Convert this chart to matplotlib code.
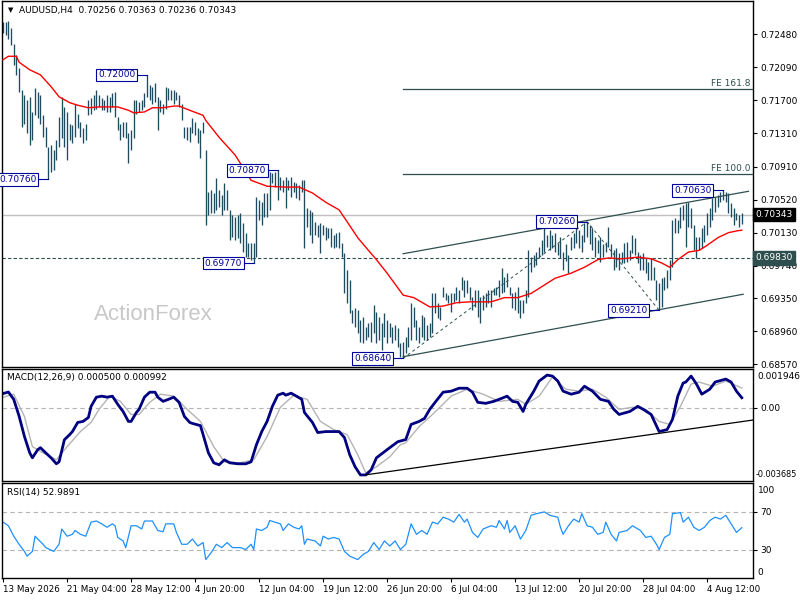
import matplotlib
matplotlib.use("Agg")
import matplotlib.pyplot as plt
import matplotlib.transforms as mtransforms
import numpy as np

plt.rcParams['font.family'] = ['DejaVu Sans']

# ---------------- data ----------------
highs = [0.7263, 0.7263, 0.7264, 0.7255, 0.7237, 0.7223, 0.7208, 0.7182, 0.7176, 0.7170,
         0.7174, 0.7156, 0.7184, 0.7180, 0.7176, 0.7152, 0.7138, 0.7115, 0.7117, 0.7111,
         0.7123, 0.7150, 0.7174, 0.7162, 0.7156, 0.7142, 0.7140, 0.7166, 0.7154, 0.7144,
         0.7137, 0.7142, 0.7170, 0.7172, 0.7176, 0.7182, 0.7176, 0.7172, 0.7170, 0.7176,
         0.7174, 0.7178, 0.7180, 0.7150, 0.7142, 0.7144, 0.7144, 0.7131, 0.7135, 0.7170,
         0.7170, 0.7168, 0.7170, 0.7178, 0.7200, 0.7188, 0.7186, 0.7190, 0.7174, 0.7170,
         0.7166, 0.7186, 0.7184, 0.7182, 0.7182, 0.7180, 0.7176, 0.7166, 0.7138, 0.7138,
         0.7138, 0.7149, 0.7144, 0.7137, 0.7135, 0.7144, 0.7111, 0.7061, 0.7064, 0.7060,
         0.7078, 0.7064, 0.7058, 0.7072, 0.7064, 0.7040, 0.7034, 0.7032, 0.7034, 0.7036,
         0.7024, 0.7013, 0.7001, 0.7001, 0.7001, 0.7055, 0.7052, 0.7049, 0.7060, 0.7060,
         0.7085, 0.7084, 0.7085, 0.7087, 0.7079, 0.7075, 0.7079, 0.7075, 0.7079, 0.7073,
         0.7072, 0.7070, 0.7075, 0.7075, 0.7042, 0.7040, 0.7038, 0.7026, 0.7022, 0.7024,
         0.7022, 0.7020, 0.7019, 0.7019, 0.7010, 0.7013, 0.7014, 0.7001, 0.6989, 0.6969,
         0.6957, 0.6921, 0.6924, 0.6921, 0.6909, 0.6913, 0.6901, 0.6906, 0.6907, 0.6927,
         0.6919, 0.6913, 0.6906, 0.6918, 0.6909, 0.6906, 0.6901, 0.6904, 0.6900, 0.6882,
         0.6883, 0.6889, 0.6901, 0.6930, 0.6925, 0.6909, 0.6901, 0.6916, 0.6913, 0.6904,
         0.6906, 0.6941, 0.6941, 0.6930, 0.6925, 0.6949, 0.6941, 0.6939, 0.6941, 0.6941,
         0.6949, 0.6945, 0.6960, 0.6957, 0.6957, 0.6949, 0.6937, 0.6945, 0.6945, 0.6937,
         0.6939, 0.6941, 0.6945, 0.6945, 0.6948, 0.6949, 0.6957, 0.6971, 0.6960, 0.6965,
         0.6949, 0.6941, 0.6943, 0.6949, 0.6933, 0.6933, 0.6945, 0.6992, 0.6984, 0.6986,
         0.6990, 0.6996, 0.7004, 0.7020, 0.7010, 0.7016, 0.7010, 0.7013, 0.7001, 0.7008,
         0.6990, 0.6999, 0.6987, 0.7008, 0.7013, 0.7020, 0.7016, 0.7010, 0.7024, 0.7026,
         0.7022, 0.7019, 0.7008, 0.7004, 0.7008, 0.6999, 0.7002, 0.7020, 0.6999, 0.6992,
         0.6995, 0.6989, 0.6990, 0.7001, 0.7002, 0.6992, 0.7010, 0.7007, 0.6990, 0.6987,
         0.6989, 0.6983, 0.6978, 0.6983, 0.6972, 0.6957, 0.6953, 0.6959, 0.6960, 0.6969,
         0.6981, 0.7028, 0.7030, 0.7028, 0.7043, 0.7046, 0.7048, 0.7049, 0.7042, 0.7022,
         0.7008, 0.7008, 0.7019, 0.7022, 0.7036, 0.7042, 0.7054, 0.7055, 0.7058, 0.7061,
         0.7063, 0.7061, 0.7060, 0.7048, 0.7042, 0.7036, 0.7034, 0.70363]

lows = [0.7249, 0.7247, 0.7242, 0.7235, 0.7212, 0.7200, 0.7180, 0.7138, 0.7142, 0.7131,
        0.7117, 0.7123, 0.7152, 0.7149, 0.7142, 0.7126, 0.7115, 0.7076, 0.7085, 0.7087,
        0.7099, 0.7115, 0.7125, 0.7115, 0.7099, 0.7123, 0.7119, 0.7126, 0.7137, 0.7126,
        0.7119, 0.7123, 0.7152, 0.7154, 0.7158, 0.7160, 0.7162, 0.7158, 0.7158, 0.7156,
        0.7156, 0.7162, 0.7150, 0.7135, 0.7123, 0.7126, 0.7125, 0.7095, 0.7111, 0.7125,
        0.7154, 0.7156, 0.7158, 0.7162, 0.7174, 0.7170, 0.7166, 0.7168, 0.7135, 0.7156,
        0.7154, 0.7160, 0.7170, 0.7170, 0.7166, 0.7170, 0.7162, 0.7146, 0.7125, 0.7123,
        0.7121, 0.7131, 0.7129, 0.7119, 0.7101, 0.7131, 0.7022, 0.7034, 0.7036, 0.7036,
        0.7040, 0.7043, 0.7034, 0.7040, 0.7040, 0.7004, 0.7008, 0.7004, 0.7007, 0.7001,
        0.6990, 0.6984, 0.6984, 0.6981, 0.6977, 0.6984, 0.7028, 0.7022, 0.7032, 0.7032,
        0.7040, 0.7072, 0.7067, 0.7052, 0.7064, 0.7061, 0.7042, 0.7064, 0.7055, 0.7061,
        0.7054, 0.7052, 0.7061, 0.6995, 0.7020, 0.7010, 0.7001, 0.7010, 0.7008, 0.6989,
        0.7010, 0.7004, 0.7007, 0.6996, 0.6995, 0.6996, 0.6995, 0.6984, 0.6941, 0.6930,
        0.6918, 0.6906, 0.6901, 0.6894, 0.6884, 0.6882, 0.6886, 0.6889, 0.6884, 0.6894,
        0.6882, 0.6886, 0.6874, 0.6889, 0.6882, 0.6889, 0.6882, 0.6886, 0.6878, 0.6866,
        0.6864, 0.6870, 0.6878, 0.6886, 0.6901, 0.6886, 0.6882, 0.6889, 0.6886, 0.6886,
        0.6889, 0.6894, 0.6918, 0.6912, 0.6909, 0.6937, 0.6933, 0.6930, 0.6919, 0.6931,
        0.6933, 0.6930, 0.6945, 0.6937, 0.6941, 0.6933, 0.6921, 0.6925, 0.6913, 0.6906,
        0.6921, 0.6925, 0.6930, 0.6925, 0.6939, 0.6939, 0.6937, 0.6941, 0.6943, 0.6949,
        0.6939, 0.6924, 0.6921, 0.6918, 0.6912, 0.6918, 0.6930, 0.6937, 0.6966, 0.6972,
        0.6975, 0.6983, 0.6986, 0.6990, 0.6996, 0.6992, 0.6995, 0.6990, 0.6986, 0.6983,
        0.6969, 0.6979, 0.6965, 0.6992, 0.6995, 0.7001, 0.6995, 0.6990, 0.7002, 0.7008,
        0.6999, 0.6992, 0.6984, 0.6989, 0.6978, 0.6984, 0.6990, 0.6996, 0.6984, 0.6969,
        0.6972, 0.6969, 0.6977, 0.6977, 0.6978, 0.6981, 0.6989, 0.6986, 0.6977, 0.6969,
        0.6969, 0.6965, 0.6957, 0.6957, 0.6957, 0.6933, 0.6921, 0.6925, 0.6945, 0.6947,
        0.6957, 0.6972, 0.7013, 0.7013, 0.7019, 0.7028, 0.6996, 0.7020, 0.7019, 0.6992,
        0.6983, 0.6992, 0.6995, 0.7002, 0.7010, 0.7020, 0.7028, 0.7038, 0.7043, 0.7049,
        0.7052, 0.7049, 0.7036, 0.7032, 0.7022, 0.7028, 0.7020, 0.70236]

last_ohlc = [0.70256, 0.70363, 0.70236, 0.70343]
support_level = 0.69830

ma_idx = [0, 2, 5, 6, 10, 14, 18, 21, 25, 28, 32, 36, 43, 47, 49, 53, 56, 60, 64, 66,
          70, 75, 76, 81, 87, 93, 99, 106, 111, 116, 121, 126, 129, 133, 137, 140, 144, 150, 154, 160,
          165, 170, 175, 183, 188, 193, 198, 203, 207, 213, 218, 223, 227, 232, 238, 243, 247, 250, 253, 257,
          261, 264, 268, 272, 275, 277]
ma_val = [0.7218, 0.7222, 0.7222, 0.7215, 0.7206, 0.7200, 0.7186, 0.7174, 0.7167, 0.7164,
          0.7161, 0.7162, 0.7162, 0.7158, 0.7155, 0.7156, 0.7161, 0.7161, 0.7163, 0.7163,
          0.7158, 0.7152, 0.7146, 0.7126, 0.7105, 0.7075, 0.7068, 0.7067, 0.7067, 0.7060,
          0.7049, 0.7040, 0.7026, 0.7007, 0.6992, 0.6981, 0.6965, 0.6939, 0.6936, 0.6925,
          0.6926, 0.6930, 0.6931, 0.6931, 0.6936, 0.6936, 0.6941, 0.6951, 0.6959, 0.6965,
          0.6972, 0.6981, 0.6983, 0.6982, 0.6984, 0.6982, 0.6977, 0.6972, 0.6981, 0.6990,
          0.6992, 0.6998, 0.7007, 0.7013, 0.7015, 0.7016]

macd_idx = [0, 2, 4, 6, 8, 10, 11, 13, 14, 16, 18, 20, 21, 23, 25, 26, 28, 30, 32, 33,
            35, 37, 39, 41, 43, 45, 47, 48, 50, 51, 53, 55, 57, 58, 60, 62, 64, 66, 68, 70,
            71, 74, 75, 77, 79, 81, 83, 85, 88, 91, 93, 95, 97, 99, 101, 103, 105, 106, 108, 110,
            112, 113, 116, 118, 121, 126, 128, 130, 132, 134, 136, 138, 140, 144, 148, 151, 153, 156, 158, 160,
            162, 165, 168, 171, 174, 176, 178, 181, 184, 186, 189, 191, 193, 195, 196, 199, 201, 204, 206, 208,
            210, 213, 216, 218, 221, 224, 227, 229, 231, 235, 238, 240, 243, 246, 249, 251, 253, 255, 256, 258,
            260, 262, 265, 267, 271, 273, 275, 277]
macd_val = [0.00071, 0.00079, 0.00042, -0.00042, -0.00144, -0.00227, -0.00252, -0.00211, -0.00201, -0.00227,
            -0.00252, -0.00282, -0.00272, -0.00161, -0.00135, -0.00120, -0.00074, -0.00069, -0.00049, 0.00007,
            0.00053, 0.00058, 0.00053, 0.00058, 0.00017, -0.00019, -0.00069, -0.00069, -0.00024, -0.00008,
            0.00053, 0.00078, 0.00078, 0.00053, 0.00032, 0.00042, 0.00053, 0.00027, -0.00044, -0.00074,
            -0.00079, -0.00090, -0.00135, -0.00227, -0.00277, -0.00287, -0.00262, -0.00277, -0.00282, -0.00282,
            -0.00272, -0.00186, -0.00120, -0.00069, 0.00007, 0.00063, 0.00073, 0.00063, 0.00073, 0.00058,
            0.00042, -0.00024, -0.00074, -0.00125, -0.00120, -0.00120, -0.00150, -0.00237, -0.00297, -0.00338,
            -0.00338, -0.00313, -0.00252, -0.00211, -0.00171, -0.00160, -0.00084, -0.00069, -0.00054, -0.00008,
            0.00027, 0.00078, 0.00083, 0.00098, 0.00098, 0.00078, 0.00027, 0.00022, 0.00032, 0.00042,
            0.00058, 0.00032, 0.00027, -0.00019, 0.00017, 0.00083, 0.00134, 0.00164, 0.00159, 0.00134,
            0.00083, 0.00068, 0.00078, 0.00108, 0.00083, 0.00042, 0.00032, -0.00008, -0.00034, -0.00019,
            0.00007, -0.00008, -0.00034, -0.00120, -0.00110, -0.00059, 0.00058, 0.00124, 0.00129, 0.00159,
            0.00119, 0.00068, 0.00093, 0.00129, 0.00144, 0.00129, 0.00083, 0.00050]

sig_idx = [0, 4, 8, 11, 15, 20, 24, 29, 33, 36, 40, 44, 48, 51, 55, 59, 64, 69, 74, 79,
           83, 89, 94, 99, 104, 109, 114, 119, 124, 129, 133, 136, 140, 145, 149, 151, 156, 161, 168, 174,
           180, 186, 193, 196, 201, 206, 211, 216, 221, 226, 231, 236, 241, 246, 250, 254, 258, 261, 266, 271, 277]
sig_val = [0.00053, 0.00068, -0.00044, -0.00196, -0.00227, -0.00262, -0.00196, -0.00120, -0.00074, -0.00008,
           0.00058, 0.00032, -0.00034, -0.00034, 0.00027, 0.00068, 0.00058, -0.00008, -0.00069, -0.00196,
           -0.00272, -0.00277, -0.00262, -0.00145, 0.00002, 0.00063, 0.00042, -0.00069, -0.00110, -0.00135,
           -0.00237, -0.00328, -0.00297, -0.00247, -0.00186, -0.00176, -0.00095, -0.00034, 0.00058, 0.00093,
           0.00068, 0.00032, 0.00042, 0.00017, 0.00058, 0.00154, 0.00093, 0.00083, 0.00093, 0.00053,
           -0.00008, 0.00002, -0.00008, -0.00069, -0.00084, 0.00007, 0.00119, 0.00129, 0.00108, 0.00134, 0.00099]

rsi_idx = [0, 2, 4, 6, 8, 9, 11, 12, 13, 15, 16, 19, 21, 22, 24, 26, 27, 29, 31, 33,
           35, 37, 39, 41, 42, 43, 45, 46, 48, 50, 52, 53, 56, 58, 60, 61, 64, 65, 67, 69,
           71, 73, 75, 76, 78, 80, 82, 84, 86, 89, 91, 93, 94, 95, 97, 99, 100, 102, 104, 105,
           107, 109, 111, 112, 113, 114, 117, 119, 120, 122, 124, 126, 128, 130, 133, 135, 137, 139, 141, 143,
           145, 147, 149, 151, 153, 155, 157, 159, 161, 163, 165, 167, 169, 171, 173, 174, 176, 178, 180, 183,
           185, 186, 188, 189, 190, 192, 194, 196, 198, 200, 203, 205, 208, 209, 210, 212, 214, 216, 217, 219,
           221, 223, 225, 226, 228, 230, 231, 234, 236, 239, 241, 243, 245, 246, 248, 250, 251, 254, 255, 257,
           259, 261, 263, 265, 267, 269, 271, 273, 275, 277]
rsi_val = [58.8, 55, 44, 35.5, 28, 23, 28, 44, 41, 35.5, 32, 28, 35.5, 51.6, 44, 46, 50, 46, 44, 58.8,
           60, 57, 53.4, 57, 55, 42.7, 39, 32, 55, 55, 51.6, 60, 60, 50, 48.7, 57, 57, 48, 35.5, 35.5,
           41, 33.7, 37.3, 19.4, 26.6, 35.5, 32, 37.3, 32, 32, 30, 35.5, 30, 51.6, 50, 53.4, 60.5, 58.8, 57, 50,
           57, 53.4, 51.6, 55, 35.5, 41, 39, 33.7, 44, 41, 42.7, 41, 28, 23, 19.4, 24.7, 28, 37.3, 30, 39,
           33.7, 39, 30, 35.5, 57, 46, 50, 46, 58.8, 57, 64, 62, 58.8, 67, 58.8, 62, 48, 42.7, 51.6, 55,
           53.4, 60.5, 51.6, 60.5, 48, 55, 41, 50, 66, 67.7, 69.6, 66, 64, 53.4, 46, 55, 62, 58.8, 67.7, 55,
           53.4, 46, 48, 58.8, 46, 39, 48, 50, 55, 50, 42.7, 44, 35.5, 30, 42.7, 46, 67.7, 68.8, 58.8, 64,
           53.4, 50, 53.4, 60.5, 64, 62, 66, 57, 48, 52.99]

price_ticks = [0.72480, 0.72090, 0.71700, 0.71310, 0.70910, 0.70520,
               0.70130, 0.69740, 0.69350, 0.68960, 0.68570]
date_idx = [0, 24, 48, 72, 96, 120, 144, 168, 192, 216, 240, 264]
date_labels = ['13 May 2026', '21 May 04:00', '28 May 12:00', '4 Jun 20:00', '12 Jun 04:00',
               '19 Jun 12:00', '26 Jun 20:00', '6 Jul 04:00', '13 Jul 12:00', '20 Jul 20:00',
               '28 Jul 04:00', '4 Aug 12:00']

# swing labels: (bar index, price)
swing_idx = [54, 17, 103, 94, 150, 219, 246, 270]
swing_val = [0.72000, 0.70760, 0.70870, 0.69770, 0.68640, 0.70260, 0.69210, 0.70630]

# channel / trend lines (bar index, value)
chan_up = [(150, 0.6988), (279.5, 0.7062)]
chan_lo = [(150, 0.6866), (277.5, 0.6940)]
macd_trend = [(135.75, -0.00338), (281.2, -0.00062)]

# ---------------- styling ----------------
BAR = '#1E4B5E'
SLATE = '#2F4F4F'
NAVY_TXT = '#00009A'
W, H = 800, 600
FS = 6.5

fig = plt.figure(figsize=(8, 6), dpi=100)
fig.patch.set_facecolor('white')


def px_rect(x0, y0, x1, y1):
    return [x0 / W, 1 - y1 / H, (x1 - x0) / W, (y1 - y0) / H]


ax = fig.add_axes(px_rect(2, 1, 753, 367))
ax2 = fig.add_axes(px_rect(2, 369, 753, 481))
ax3 = fig.add_axes(px_rect(2, 483, 753, 578))

XL = (-0.4, 281.2)
for a in (ax, ax2, ax3):
    a.set_xlim(*XL)
    a.set_facecolor('white')
    for s in a.spines.values():
        s.set_color('black')
        s.set_linewidth(1.0)
    a.yaxis.set_ticks_position('right')
    a.tick_params(axis='x', bottom=False, labelbottom=False)
    a.tick_params(axis='y', left=False, labelleft=False, right=True, labelright=True,
                  length=3, width=0.8, pad=2, labelsize=FS, direction='out')

# ---------- main panel ----------
ax.set_ylim(0.68538, 0.72875)
n = len(highs)
idx = np.arange(n)
ax.axhline(last_ohlc[3], color='#C0C0C0', lw=1.0, zorder=0.5)
ax.axhline(support_level, color=SLATE, lw=0.8, ls=(0, (3, 2)), zorder=0.6)
ax.vlines(idx, lows, highs, color=BAR, lw=0.95, zorder=2)
ax.plot(ma_idx, ma_val, color='red', lw=1.0, zorder=3)

# channel
for (p0, p1) in (chan_up, chan_lo):
    ax.plot([p0[0], p1[0]], [p0[1], p1[1]], color=SLATE, lw=0.9, zorder=3)

# fibonacci expansion
A = (swing_idx[4], swing_val[4])
B = (swing_idx[5], swing_val[5])
C = (swing_idx[6], swing_val[6])
ax.plot([A[0], B[0]], [A[1], B[1]], color=SLATE, lw=0.7, ls=(0, (3, 3)), zorder=3)
ax.plot([B[0], C[0]], [B[1], C[1]], color=SLATE, lw=0.7, ls=(0, (3, 3)), zorder=3)
trans = mtransforms.blended_transform_factory(ax.transAxes, ax.transData)
for ratio, lab in ((1.0, 'FE 100.0'), (1.618, 'FE 161.8')):
    lvl = C[1] + ratio * (B[1] - A[1])
    ax.plot([A[0], XL[1]], [lvl, lvl], color=SLATE, lw=0.9, zorder=3)
    ax.text(0.997, lvl + 0.00008, lab, transform=trans, ha='right', va='bottom',
            fontsize=FS, color=SLATE)

# swing labels
for i, v in zip(swing_idx, swing_val):
    x0 = i - 4.0
    ax.plot([x0, i], [v, v], color=NAVY_TXT, lw=0.8, zorder=4)
    ax.text(x0 - 0.4, v, f'{v:.5f}', ha='right', va='center', fontsize=FS, color=NAVY_TXT,
            zorder=5, bbox=dict(boxstyle='square,pad=0.2', fc='white', ec=NAVY_TXT, lw=0.8))

ax.set_yticks(price_ticks)
ax.set_yticklabels([f'{v:.5f}' for v in price_ticks])

ax.text(1.003, last_ohlc[3], f'{last_ohlc[3]:.5f}', transform=trans, ha='left', va='center',
        fontsize=FS, color='white', clip_on=False, zorder=10,
        bbox=dict(boxstyle='square,pad=0.25', fc='black', ec='black'))
ax.text(1.003, support_level, f'{support_level:.5f}', transform=trans, ha='left', va='center',
        fontsize=FS, color='white', clip_on=False, zorder=10,
        bbox=dict(boxstyle='square,pad=0.25', fc=SLATE, ec=SLATE))

# header & watermark
fig.text(8 / W, 1 - 10.5 / H, '\u25BC', fontsize=5, va='center', ha='left')
fig.text(19 / W, 1 - 10.5 / H,
         'AUDUSD,H4  ' + ' '.join(f'{v:.5f}' for v in last_ohlc),
         fontsize=FS, va='center', ha='left')
fig.text(94 / W, 1 - 314 / H, 'ActionForex', fontsize=16, color='#C8C8C8',
         va='center', ha='left', family=['Liberation Sans', 'DejaVu Sans'])

# ---------- MACD ----------
ax2.set_ylim(-0.003685, 0.001946)
ax2.axhline(0, color='#B4B4B4', lw=0.8, ls=(0, (4, 3)))
ax2.plot(sig_idx, sig_val, color='#B4B4B4', lw=1.0)
ax2.plot(macd_idx, macd_val, color='#000080', lw=2.0, solid_joinstyle='round')
ax2.plot([macd_trend[0][0], macd_trend[1][0]], [macd_trend[0][1], macd_trend[1][1]],
         color='black', lw=0.9)
ax2.set_yticks([0])
ax2.set_yticklabels(['0.00'])
ax2.text(1.006, 0.93, '0.001946', transform=ax2.transAxes, fontsize=FS, va='center', ha='left')
ax2.text(1.003, 0.055, '-0.003685', transform=ax2.transAxes, fontsize=5.9, va='center', ha='left')
ax2.text(0.006, 0.92, 'MACD(12,26,9) 0.000500 0.000992', transform=ax2.transAxes,
         fontsize=FS, va='center', ha='left')

# ---------- RSI ----------
ax3.set_ylim(0, 100)
for lv in (70, 30):
    ax3.axhline(lv, color='#B4B4B4', lw=0.8, ls=(0, (4, 3)))
ax3.plot(rsi_idx, rsi_val, color='#1E90FF', lw=0.9)
ax3.set_yticks([70, 30])
ax3.set_yticklabels(['70', '30'])
ax3.text(1.006, 0.926, '100', transform=ax3.transAxes, fontsize=FS, va='center', ha='left')
ax3.text(1.006, 0.063, '0', transform=ax3.transAxes, fontsize=FS, va='center', ha='left')
ax3.text(0.006, 0.905, 'RSI(14) 52.9891', transform=ax3.transAxes,
         fontsize=FS, va='center', ha='left')

ax3.set_xticks(date_idx)
ax3.set_xticklabels(date_labels)
ax3.tick_params(axis='x', bottom=True, labelbottom=True, length=3, width=0.8, pad=2,
                labelsize=6.3, direction='out')
for lbl in ax3.get_xticklabels():
    lbl.set_horizontalalignment('left')

fig.savefig('out.png', dpi=100, facecolor='white')
